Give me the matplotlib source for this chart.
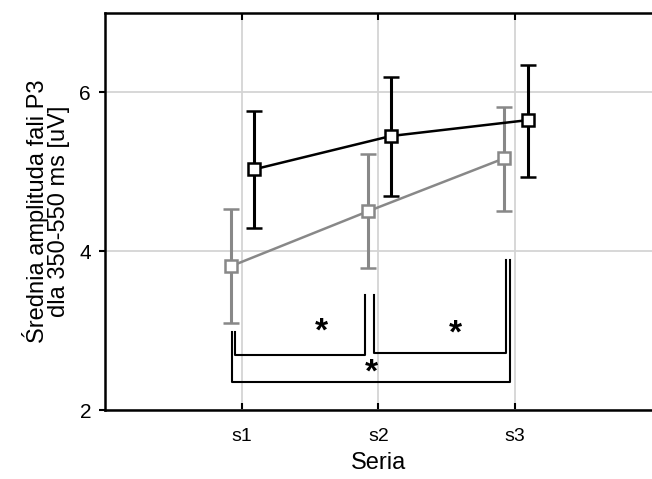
import numpy as np
import matplotlib.pyplot as plt

plt.rcParams['font.family'] = ['Liberation Sans', 'DejaVu Sans']

# dane
serie = ['s1', 's2', 's3']
x_pos = [1, 2, 3]
czarna_srednia = [5.03, 5.45, 5.65]
czarna_gora = [5.76, 6.19, 6.34]
czarna_dol = [4.29, 4.69, 4.94]
szara_srednia = [3.81, 4.50, 5.17]
szara_gora = [4.53, 5.22, 5.82]
szara_dol = [3.09, 3.79, 4.50]

fig = plt.figure(figsize=(6.52, 4.79), dpi=100)
ax = fig.add_axes([0.161, 0.144, 0.839, 0.829])


def rysuj(przes, sr, gora, dol, kolor):
    x = np.array(x_pos) + przes
    sr = np.array(sr)
    err = [sr - np.array(dol), np.array(gora) - sr]
    ax.errorbar(x, sr, yerr=err, color=kolor, lw=1.8, elinewidth=2.2,
                capsize=6, capthick=2.2, marker='s', ms=8.5, mfc='white',
                mec=kolor, mew=1.8, zorder=3)


rysuj(-0.08, szara_srednia, szara_gora, szara_dol, '#888888')
rysuj(0.09, czarna_srednia, czarna_gora, czarna_dol, 'black')

# nawiasy istotnosci
def nawias(x1, x2, y1, yd, y2, gw_x, gw_y):
    ax.plot([x1, x1, x2, x2], [y1, yd, yd, y2], color='black', lw=1.5)
    ax.text(gw_x, gw_y, '*', ha='center', va='center', fontsize=24,
            fontweight='bold')


nawias(0.95, 1.90, 2.98, 2.69, 3.45, 1.58, 2.98)
nawias(1.97, 2.93, 3.45, 2.72, 3.89, 2.56, 2.96)
nawias(0.93, 2.96, 2.98, 2.35, 3.89, 1.95, 2.46)

ax.set_xlim(0, 4)
ax.set_ylim(2, 7)
ax.set_xticks(x_pos)
ax.set_xticklabels(serie)
ax.set_yticks([2, 4, 6])
ax.grid(True, color='#d4d4d4', lw=1.3)
ax.set_axisbelow(True)
ax.tick_params(axis='x', direction='in', top=True, length=5, width=1.5,
               labelsize=14, pad=13)
ax.tick_params(axis='y', direction='out', length=4, width=1.5, labelsize=15,
               pad=6)
for s in ['left', 'bottom', 'top']:
    ax.spines[s].set_linewidth(1.8)
ax.spines['right'].set_visible(False)

ax.set_xlabel('Seria', fontsize=17, labelpad=5)
ax.set_ylabel('Średnia amplituda fali P3\ndla 350-550 ms [uV]', fontsize=17,
              labelpad=7, linespacing=0.95)

fig.savefig('out.png', dpi=100)
